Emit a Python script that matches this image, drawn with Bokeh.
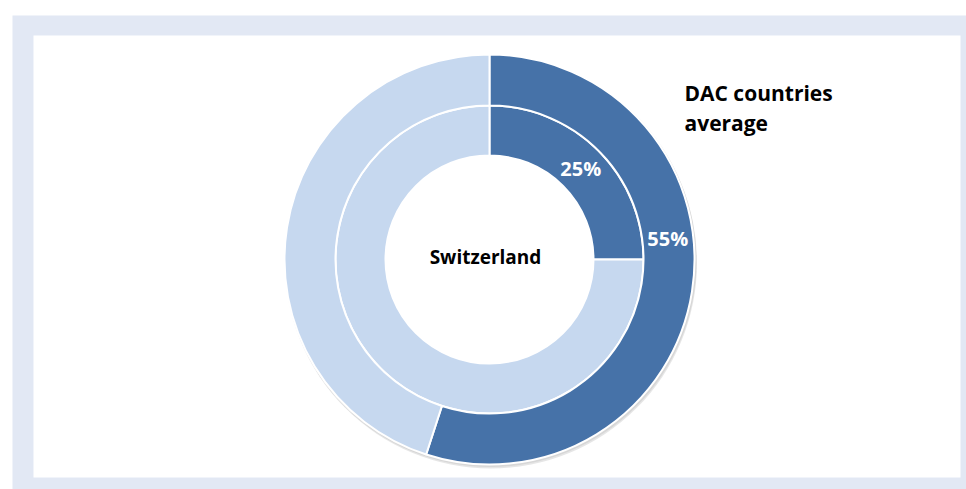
import numpy as np
from bokeh.plotting import figure
from bokeh.models import Range1d
from bokeh.core.properties import value
from bokeh.embed import file_html
from bokeh.resources import INLINE

# Data
rings = ["Switzerland", "DAC countries average"]
shares = [0.25, 0.55]
labels = ["25%", "55%"]
label_frac = [0.5, 0.42]   # where along the slice the label sits

W, H = 966, 489
p = figure(width=W, height=H, output_backend="svg", toolbar_location=None,
           x_range=Range1d(0, W), y_range=Range1d(0, H), min_border=0)
p.axis.visible = False
p.grid.visible = False
p.outline_line_color = None
p.background_fill_color = "white"
p.border_fill_color = "white"

# frame decoration (page coordinates -> plot coordinates)
def X(px): return px
def Y(py): return H - py
p.quad(left=[X(12)], right=[X(966)], bottom=[Y(489)], top=[Y(15)], fill_color="#E2E8F4", line_color=None)
p.quad(left=[X(33)], right=[X(960)], bottom=[Y(477)], top=[Y(35)], fill_color="white", line_color=None)

cx, cy = X(489), Y(259)
radii = [(104, 154), (154, 205)]
dark = "#4672A8"
light = "#C6D8EF"

# soft shadow
p.annulus(x=[cx + 1.5], y=[cy - 3], inner_radius=190, outer_radius=206,
          fill_color="#9a9a9a", fill_alpha=0.25, line_color=None)
p.annulus(x=[cx + 1], y=[cy - 1.5], inner_radius=190, outer_radius=206,
          fill_color="#9a9a9a", fill_alpha=0.2, line_color=None)

for (ri, ro), s, lab, f in zip(radii, shares, labels, label_frac):
    a0 = np.pi / 2
    a1 = np.pi / 2 - 2 * np.pi * s
    p.annular_wedge(x=[cx], y=[cy], inner_radius=ri, outer_radius=ro,
                    start_angle=[a0], end_angle=[a1], direction="clock",
                    fill_color=dark, line_color="white", line_width=2)
    p.annular_wedge(x=[cx], y=[cy], inner_radius=ri, outer_radius=ro,
                    start_angle=[a1], end_angle=[a0], direction="clock",
                    fill_color=light, line_color="white", line_width=2)
    am = np.pi / 2 - 2 * np.pi * s * f
    rm = (ri + ro) / 2
    p.text(x=[cx + rm * np.cos(am)], y=[cy + rm * np.sin(am)], text=[lab],
           text_color="white", text_font=value("Open Sans"), text_font_style="bold",
           text_font_size="20px", text_align="center", text_baseline="middle")

p.text(x=[cx - 4], y=[cy + 3], text=[rings[0]], text_color="black",
       text_font=value("Open Sans"), text_font_style="bold", text_font_size="19px",
       text_align="center", text_baseline="middle")
p.text(x=[X(684)], y=[Y(78)], text=["DAC countries\naverage"], text_color="black",
       text_font=value("Open Sans"), text_font_style="bold", text_font_size="21px",
       text_align="left", text_baseline="top", text_line_height=1.1)

open("out.html", "w").write(file_html(p, INLINE))
